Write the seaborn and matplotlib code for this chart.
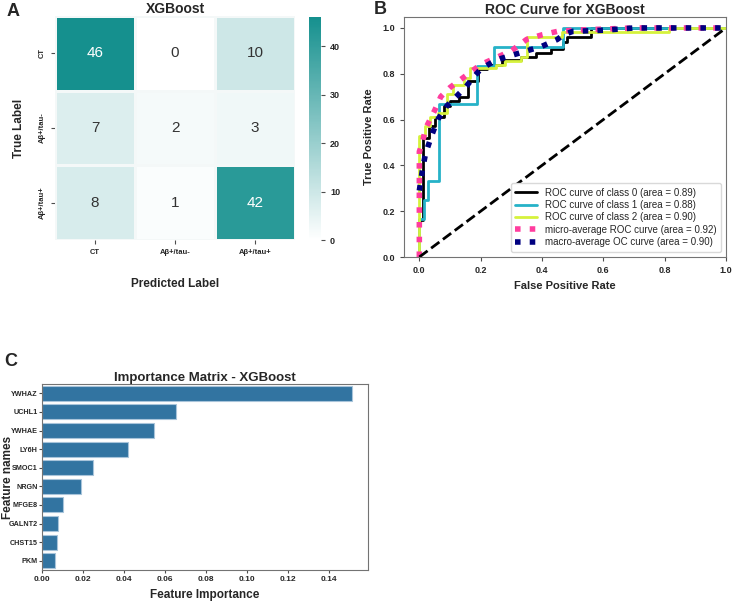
import numpy as np
import pandas as pd
import matplotlib
matplotlib.use("Agg")
import matplotlib.pyplot as plt
from matplotlib.colors import LinearSegmentedColormap
import seaborn as sns

# Confusion matrix
class_names = ["CT", "Aβ+/tau-", "Aβ+/tau+"]
conf_mat = [
    [46, 0, 10],
    [7, 2, 3],
    [8, 1, 42],
]

# ROC curves (corner points)
fpr_0 = [0, 0, 0.011, 0.011, 0.03, 0.03, 0.05, 0.05, 0.08, 0.08, 0.10, 0.10, 0.13, 0.13,
         0.16, 0.16, 0.19, 0.19, 0.22, 0.22, 0.27, 0.27, 0.33, 0.33, 0.38, 0.38, 0.43, 0.43,
         0.467, 0.467, 0.48, 0.48, 0.56, 0.56, 1.0]
tpr_0 = [0, 0.16, 0.16, 0.52, 0.52, 0.57, 0.57, 0.61, 0.61, 0.66, 0.66, 0.68, 0.68, 0.70,
         0.70, 0.77, 0.77, 0.82, 0.82, 0.84, 0.84, 0.86, 0.86, 0.875, 0.875, 0.89, 0.89, 0.91,
         0.91, 0.94, 0.94, 0.96, 0.96, 1.0, 1.0]
fpr_1 = [0, 0, 0.014, 0.014, 0.027, 0.027, 0.065, 0.065, 0.187, 0.187, 0.243, 0.243, 0.467,
         0.467, 1.0]
tpr_1 = [0, 0.167, 0.167, 0.25, 0.25, 0.333, 0.333, 0.667, 0.667, 0.833, 0.833, 0.917, 0.917,
         1.0, 1.0]
fpr_2 = [0, 0, 0.02, 0.02, 0.035, 0.035, 0.06, 0.06, 0.09, 0.09, 0.11, 0.11, 0.145, 0.145,
         0.165, 0.165, 0.25, 0.25, 0.28, 0.28, 0.33, 0.33, 0.35, 0.35, 0.466, 0.466, 0.815,
         0.815, 1.0]
tpr_2 = [0, 0.53, 0.53, 0.57, 0.57, 0.61, 0.61, 0.63, 0.63, 0.71, 0.71, 0.75, 0.75, 0.78,
         0.78, 0.825, 0.825, 0.84, 0.84, 0.855, 0.855, 0.875, 0.875, 0.962, 0.962, 0.984,
         0.984, 1.0, 1.0]
fpr_micro = [0, 0, 0.01, 0.02, 0.035, 0.05, 0.07, 0.10, 0.13, 0.16, 0.20, 0.25, 0.30, 0.35,
             0.40, 0.45, 0.50, 0.60, 0.70, 1.0]
tpr_micro = [0, 0.46, 0.50, 0.56, 0.60, 0.64, 0.70, 0.74, 0.77, 0.80, 0.84, 0.87, 0.90, 0.95,
             0.97, 0.985, 0.99, 0.995, 1.0, 1.0]
fpr_macro = [0, 0.01, 0.02, 0.04, 0.06, 0.09, 0.12, 0.15, 0.18, 0.20, 0.25, 0.30, 0.35, 0.40,
             0.45, 0.47, 0.50, 0.60, 0.70, 1.0]
tpr_macro = [0.29, 0.38, 0.45, 0.53, 0.60, 0.66, 0.70, 0.74, 0.79, 0.82, 0.86, 0.88, 0.90,
             0.92, 0.95, 0.97, 0.985, 0.99, 1.0, 1.0]
roc_labels = [
    "ROC curve of class 0 (area = 0.89)",
    "ROC curve of class 1 (area = 0.88)",
    "ROC curve of class 2 (area = 0.90)",
    "micro-average ROC curve (area = 0.92)",
    "macro-average OC curve (area = 0.90)",
]

# Feature importance
features = ["YWHAZ", "UCHL1", "YWHAE", "LY6H", "SMOC1", "NRGN", "MFGE8", "GALNT2", "CHST15", "PKM"]
importance = [0.1515, 0.0656, 0.0545, 0.0421, 0.0247, 0.0189, 0.0103, 0.0077, 0.0073, 0.0062]

sns.set_style("ticks")
plt.rcParams["font.family"] = ["Liberation Sans", "DejaVu Sans"]
plt.rcParams["axes.edgecolor"] = "0.45"
plt.rcParams["xtick.color"] = "0.3"
plt.rcParams["ytick.color"] = "0.3"
plt.rcParams["xtick.labelcolor"] = "0.15"
plt.rcParams["ytick.labelcolor"] = "0.15"
plt.rcParams["xtick.major.size"] = 3
plt.rcParams["ytick.major.size"] = 3

fig = plt.figure(figsize=(7.36, 6.01), dpi=100)

# ---- A: confusion matrix heatmap
ax_a = fig.add_axes([55 / 736, 1 - 240 / 601, 240 / 736, 224 / 601])
ax_cb = fig.add_axes([309 / 736, 1 - 240 / 601, 12 / 736, 223 / 601])
cmap = LinearSegmentedColormap.from_list("teal", ["#ffffff", "#15908e"])
df_cm = pd.DataFrame(conf_mat, index=class_names, columns=class_names)
sns.heatmap(df_cm, annot=True, fmt="d", cmap=cmap, vmin=0, vmax=46,
            linewidths=1, linecolor="#f4f8f8", ax=ax_a, cbar_ax=ax_cb,
            annot_kws={"fontsize": 11})
for t in ax_a.texts:
    if t.get_text() in ("46", "42"):
        t.set_color("white")
    else:
        t.set_color("#333333")
ax_a.set_title("XGBoost", fontsize=10, fontweight="bold", color="#262626", pad=0.5)
ax_a.set_xlabel("Predicted Label", fontsize=8.5, fontweight="bold", labelpad=16, color="#262626")
ax_a.set_ylabel("True Label", fontsize=8.5, fontweight="bold", labelpad=10, color="#262626")
ax_a.tick_params(axis="x", labelsize=5.5, rotation=0)
ax_a.tick_params(axis="y", labelsize=5.5, rotation=90)
for lab in ax_a.get_xticklabels() + ax_a.get_yticklabels():
    lab.set_fontweight("bold")
for lab in ax_a.get_yticklabels():
    lab.set_va("center")
ax_cb.tick_params(labelsize=6.5)
for lab in ax_cb.get_yticklabels():
    lab.set_fontweight("bold")

# ---- B: ROC curves
ax_b = fig.add_axes([404 / 736, 1 - 257 / 601, 322 / 736, 240.5 / 601])
ax_b.plot(fpr_0, tpr_0, color="black", lw=2, label=roc_labels[0])
ax_b.plot(fpr_1, tpr_1, color="#26b2c8", lw=2, label=roc_labels[1])
ax_b.plot(fpr_2, tpr_2, color="#d6f23c", lw=2, label=roc_labels[2])
ax_b.plot(fpr_micro, tpr_micro, color="#ff3d9e", ls=":", lw=4, label=roc_labels[3])
ax_b.plot(fpr_macro, tpr_macro, color="navy", ls=":", lw=4, label=roc_labels[4])
ax_b.plot([0, 1], [0, 1], "k--", lw=2)
ax_b.set_xlim(-0.05, 1.0)
ax_b.set_ylim(0.0, 1.05)
ax_b.set_title("ROC Curve for XGBoost", fontsize=10, fontweight="bold", color="#262626", pad=2)
ax_b.set_xlabel("False Positive Rate", fontsize=8, fontweight="bold", color="#262626")
ax_b.set_ylabel("True Positive Rate", fontsize=8, fontweight="bold", color="#262626", labelpad=6)
ax_b.tick_params(labelsize=6.5)
for lab in ax_b.get_xticklabels() + ax_b.get_yticklabels():
    lab.set_fontweight("bold")
ax_b.legend(loc="lower right", fontsize=7, handlelength=2.2, labelspacing=0.25,
            borderpad=0.5, frameon=True, framealpha=1, edgecolor="0.85")

# ---- C: feature importance
ax_c = fig.add_axes([42 / 736, 1 - 570 / 601, 326 / 736, 186 / 601])
df_imp = pd.DataFrame({"feature": features, "importance": importance})
sns.barplot(data=df_imp, x="importance", y="feature", orient="h", color="#1f77b4",
            edgecolor="#a8c4da", linewidth=0.8, ax=ax_c)
ax_c.set_xlim(0, max(importance) * 1.05)
ax_c.set_xticks(np.arange(0, 0.15, 0.02))
ax_c.set_title("Importance Matrix - XGBoost", fontsize=9.5, fontweight="bold", color="#262626", pad=1)
ax_c.set_xlabel("Feature Importance", fontsize=8.5, fontweight="bold", color="#262626", labelpad=4)
ax_c.set_ylabel("Feature names", fontsize=8.5, fontweight="bold", color="#262626")
ax_c.yaxis.set_label_coords(-28 / 326, 0.5)
ax_c.tick_params(axis="x", labelsize=6, length=2.5, pad=2)
ax_c.tick_params(axis="y", labelsize=5.2, length=2, pad=1)
for lab in ax_c.get_xticklabels() + ax_c.get_yticklabels():
    lab.set_fontweight("bold")

# panel letters
fig.text(7 / 736, 1 - 3 / 601, "A", fontsize=13, fontweight="bold", va="top")
fig.text(374 / 736, 1 - 1 / 601, "B", fontsize=13, fontweight="bold", va="top")
fig.text(4 / 736, 1 - 353 / 601, "C", fontsize=13, fontweight="bold", va="top")

fig.savefig("out.png", dpi=100)
